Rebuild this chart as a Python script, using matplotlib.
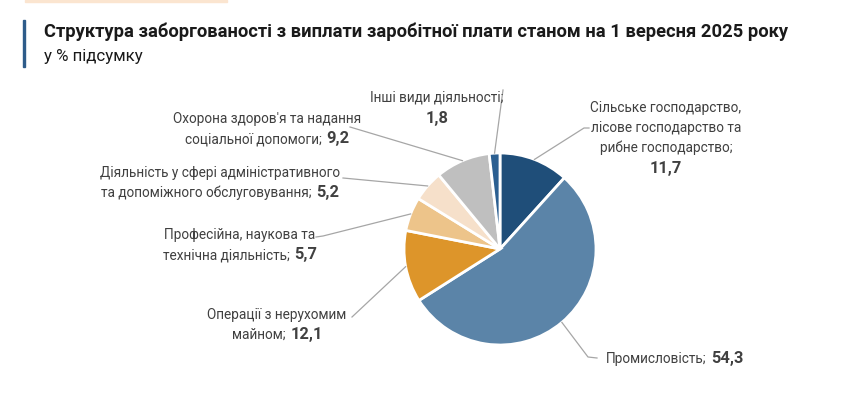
import matplotlib.pyplot as plt
from matplotlib.patches import Rectangle
import numpy as np

# Дані
categories = [
    "Сільське господарство,\nлісове господарство та\nрибне господарство;",
    "Промисловість;",
    "Операції з нерухомим\nмайном;",
    "Професійна, наукова та\nтехнічна діяльність;",
    "Діяльність у сфері адміністративного\nта допоміжного обслуговування;",
    "Охорона здоров'я та надання\nсоціальної допомоги;",
    "Інші види діяльності;",
]
values = [11.7, 54.3, 12.1, 5.7, 5.2, 9.2, 1.8]
value_labels = ["11,7", "54,3", "12,1", "5,7", "5,2", "9,2", "1,8"]
colors = ["#1F4E79", "#5B84A8", "#DD952A", "#EDC48A", "#F6E0CA", "#BFBFBF", "#2B5F91"]

FONT = "Roboto"
TXT = "#404040"
LINE = "#A6A6A6"
FS = 9.8
FSB = 11.8

fig = plt.figure(figsize=(8.63, 3.95), dpi=100)
fig.patches.append(Rectangle((25 / 863, 1 - 2 / 395), 202 / 863, 2 / 395,
                             transform=fig.transFigure, color="#FBE5D0"))
fig.patches.append(Rectangle((23 / 863, 1 - 67 / 395), 2.2 / 863, 47 / 395,
                             transform=fig.transFigure, color="#2E5C8A"))
fig.text(44 / 863, 1 - 32 / 395, "Структура заборгованості з виплати заробітної плати станом на 1 вересня 2025 року",
         fontsize=13.2, fontweight="bold", family=FONT, color="#1A1A1A", va="center")
fig.text(44 / 863, 1 - 56 / 395, "у % підсумку", fontsize=12.2, family=FONT, color="#1A1A1A", va="center")

ax = fig.add_axes([0, 0, 1, 1])
cx, cy, r = 500, 249, 96
wedges, _ = ax.pie(values, colors=colors, startangle=-90, counterclock=True,
                   center=(cx, cy), radius=r,
                   wedgeprops=dict(edgecolor="white", linewidth=2))
ax.set_xlim(0, 863)
ax.set_ylim(395, 0)
ax.set_aspect("equal")
ax.axis("off")

renderer = fig.canvas.get_renderer()


def width(s, **kw):
    t = ax.text(0, 0, s, **kw)
    w = t.get_window_extent(renderer).width
    t.remove()
    return w


norm = dict(family=FONT, fontsize=FS, color=TXT, va="baseline")
bold = dict(family=FONT, fontsize=FSB, color=TXT, va="baseline", fontweight="bold")

# позиції підписів: центр x, базові лінії, значення окремим рядком, точки лінії-виноски
layout = [
    (666, [112, 132, 152, 173], True, [(589, 128), (584, 128)]),
    (675, [363], False, [(597, 358), (588, 357)]),
    (277, [319, 339], False, [(352, 317)]),
    (240, [239, 259], False, [(316, 237), (323, 236)]),
    (220, [177, 197], False, [(343, 178)]),
    (267, [123, 143], False, [(350, 127)]),
    (437, [102, 123], True, [(503, 90)]),
]

for w, name, val, (x, ys, sep, pts) in zip(wedges, categories, value_labels, layout):
    lines = name.split("\n")
    if sep:
        for s, y in zip(lines, ys):
            ax.text(x, y, s, ha="center", **norm)
        ax.text(x, ys[-1], val, ha="center", **bold)
    else:
        for s, y in zip(lines[:-1], ys):
            ax.text(x, y, s, ha="center", **norm)
        w1 = width(lines[-1], **norm)
        w2 = width(val, **bold)
        gap = 5
        left = x - (w1 + gap + w2) / 2
        ax.text(left, ys[-1], lines[-1], ha="left", **norm)
        ax.text(left + w1 + gap, ys[-1], val, ha="left", **bold)
    ang = np.deg2rad((w.theta1 + w.theta2) / 2)
    ex, ey = cx + r * np.cos(ang), cy + r * np.sin(ang)
    px = [p[0] for p in pts] + [ex]
    py = [p[1] for p in pts] + [ey]
    ax.plot(px, py, color=LINE, lw=0.9)

fig.savefig("out.png", dpi=100)
